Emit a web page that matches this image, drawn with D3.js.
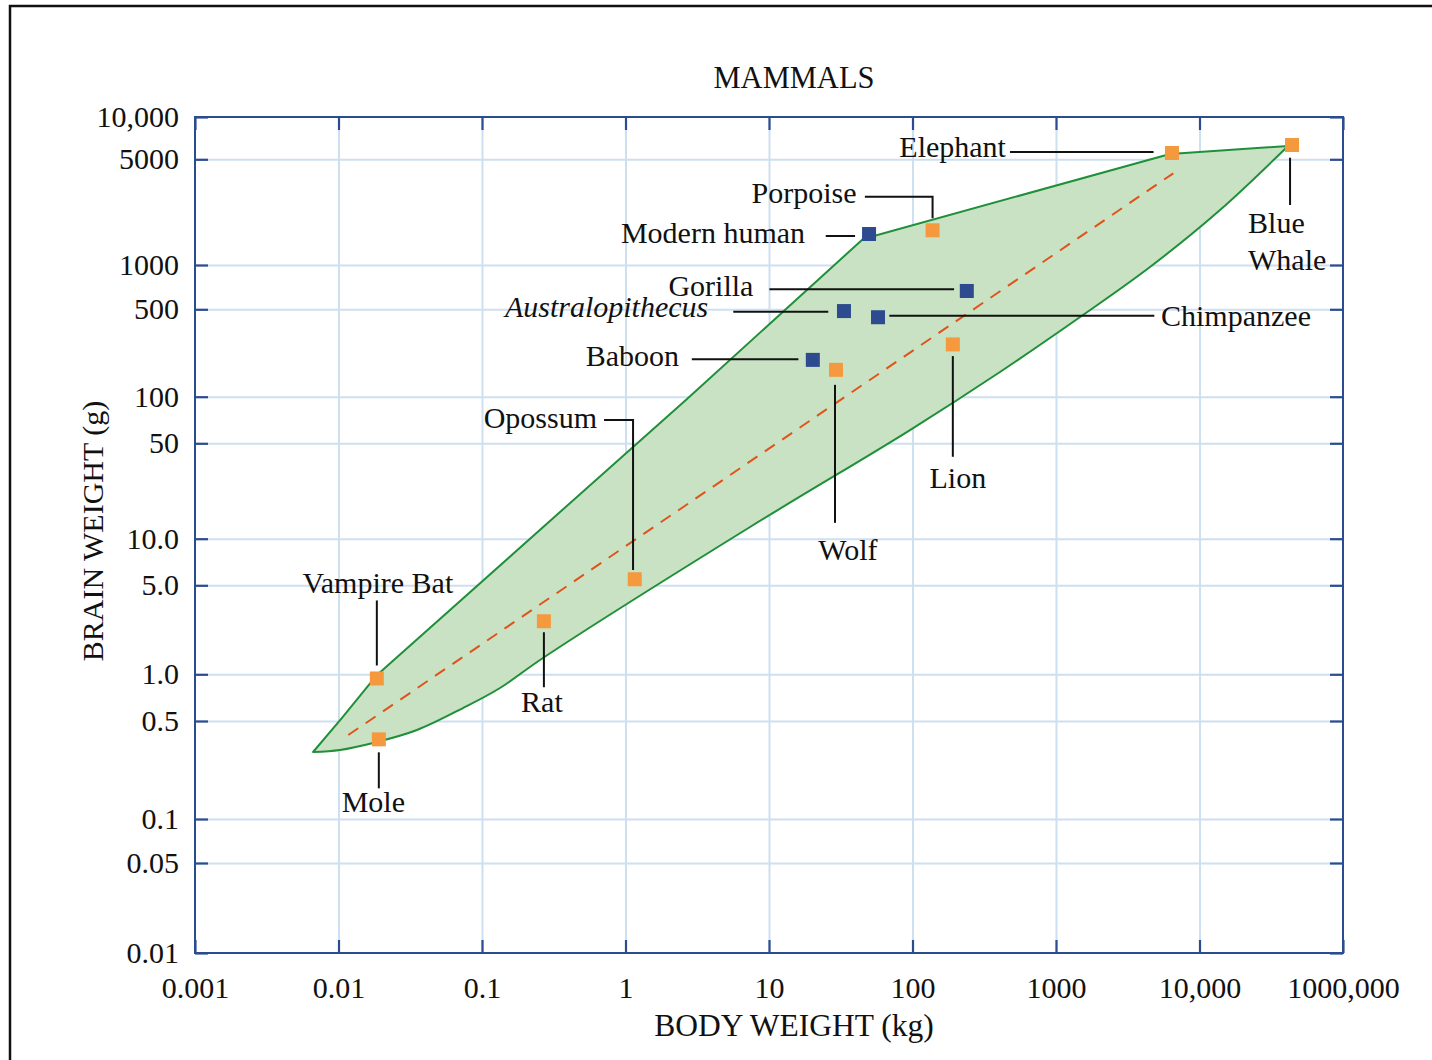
<!DOCTYPE html>
<html>
<head>
<meta charset="utf-8">
<script src="https://cdn.jsdelivr.net/npm/d3@7"></script>
<style>
  html, body { margin: 0; padding: 0; background: #fff; }
  svg { display: block; }
  text { font-family: "Liberation Serif", "Times New Roman", serif; fill: #111; }
</style>
</head>
<body>
<svg id="chart" width="1432" height="1060"></svg>
<script>
// ---- data -------------------------------------------------------------
const animals   = ["Vampire Bat", "Mole", "Rat", "Opossum", "Baboon", "Wolf",
                   "Australopithecus", "Chimpanzee", "Gorilla", "Lion",
                   "Modern human", "Porpoise", "Elephant", "Blue Whale"];
const bodyKg    = [0.0185, 0.0191, 0.27, 1.16, 20.2, 29.3, 33.3, 57.5, 239, 191, 49.8, 138, 6430, 44150];
const brainG    = [0.94, 0.37, 2.61, 5.47, 197, 164, 484, 432, 666, 262, 1603, 1696, 5543, 6322];
const isPrimate = [false, false, false, false, true, false, true, true, true, false, true, false, false, false];

// envelope enclosing the mammals: upper edge (small -> large), lower edge (large -> small)
const upperBody  = [0.00665, 0.01058, 0.01855, 0.3498, 2.683, 45.2, 6229, 41400];
const upperBrain = [0.3005, 0.523, 0.99, 15.69, 96.6, 1486, 5453, 6218];
const lowerBody  = [41400, 13900, 4519, 1542, 407, 96.1, 7.38, 0.266, 0.1335, 0.0737, 0.03524, 0.0174, 0.01024, 0.00665];
const lowerBrain = [6218, 2310, 969, 450, 157.6, 60.9, 12.18, 1.343, 0.816, 0.606, 0.4313, 0.3484, 0.3107, 0.3005];

// trend line end points
const trendBody  = [0.0117, 6565];
const trendBrain = [0.397, 4040];

// axis ticks
const xTickValues = [0.001, 0.01, 0.1, 1, 10, 100, 1000, 10000, 100000];
const xTickLabels = ["0.001", "0.01", "0.1", "1", "10", "100", "1000", "10,000", "1000,000"];
const yTickValues = [0.01, 0.05, 0.1, 0.5, 1, 5, 10, 50, 100, 500, 1000, 5000, 10000];
const yTickLabels = ["0.01", "0.05", "0.1", "0.5", "1.0", "5.0", "10.0", "50", "100", "500", "1000", "5000", "10,000"];

// ---- layout -----------------------------------------------------------
const W = 1432, H = 1060;
const plot = { left: 195, right: 1343, top: 117, bottom: 953 };
const COLORS = {
  frame: "#2c4c91", grid: "#cde0ef", fill: "#c9e2c4", edge: "#1f8f3a",
  trend: "#e0531c", other: "#f5993f", primate: "#2d4b8e", ink: "#111"
};
const FONT = 30;

const svg = d3.select("#chart");

// outer frame running off the page on the right and bottom
svg.append("rect")
  .attr("x", 10).attr("y", 6).attr("width", W + 40).attr("height", H + 40)
  .attr("fill", "none").attr("stroke", "#111").attr("stroke-width", 2.5);

const x = d3.scaleLog().domain([0.001, 100000]).range([plot.left, plot.right]);
// brain weight axis: log scale, piecewise between the printed ticks
const y = d3.scaleLog()
  .domain(yTickValues)
  .range([953, 863, 819, 721, 674.3, 585.3, 538.7, 443.3, 396.7, 309.3, 265, 159.3, 117]);

const pw = plot.right - plot.left, ph = plot.bottom - plot.top;

// gridlines
const grid = svg.append("g");
grid.append("g").attr("transform", `translate(0,${plot.bottom})`)
  .call(d3.axisBottom(x).tickValues(xTickValues.slice(1, -1)).tickSizeInner(-ph).tickSizeOuter(0).tickFormat(""));
grid.append("g").attr("transform", `translate(${plot.left},0)`)
  .call(d3.axisLeft(y).tickValues(yTickValues.slice(1, -1)).tickSizeInner(-pw).tickSizeOuter(0).tickFormat(""));
grid.selectAll(".domain").remove();
grid.selectAll("line").attr("stroke", COLORS.grid).attr("stroke-width", 2);

// envelope: straight upper edge, smooth lower edge
const upperPath = d3.line().x(d => x(d[0])).y(d => y(d[1]))
  (upperBody.map((b, i) => [b, upperBrain[i]]));
const lowerPath = d3.line().curve(d3.curveCatmullRom.alpha(0.5)).x(d => x(d[0])).y(d => y(d[1]))
  (lowerBody.map((b, i) => [b, lowerBrain[i]]));
svg.append("path")
  .attr("d", upperPath + "L" + lowerPath.slice(1) + "Z")
  .attr("fill", COLORS.fill)
  .attr("stroke", COLORS.edge).attr("stroke-width", 2).attr("stroke-linejoin", "round");

// dashed trend line
svg.append("path")
  .attr("d", d3.line().x(d => x(d[0])).y(d => y(d[1]))(trendBody.map((b, i) => [b, trendBrain[i]])))
  .attr("fill", "none").attr("stroke", COLORS.trend).attr("stroke-width", 2)
  .attr("stroke-dasharray", "12,9");

// plot frame
svg.append("rect")
  .attr("x", plot.left).attr("y", plot.top).attr("width", pw).attr("height", ph)
  .attr("fill", "none").attr("stroke", COLORS.frame).attr("stroke-width", 2);

// axes with inward ticks
const TICK = 13;
const axes = svg.append("g");
axes.append("g").attr("transform", `translate(0,${plot.bottom})`)
  .call(d3.axisBottom(x).tickValues(xTickValues).tickSizeInner(-TICK).tickSizeOuter(0)
    .tickPadding(24).tickFormat((d, i) => xTickLabels[i]));
axes.append("g").attr("transform", `translate(${plot.left},0)`)
  .call(d3.axisLeft(y).tickValues(yTickValues).tickSizeInner(-TICK).tickSizeOuter(0)
    .tickPadding(16).tickFormat((d, i) => yTickLabels[i]));
axes.append("g").attr("transform", `translate(0,${plot.top})`)
  .call(d3.axisTop(x).tickValues(xTickValues).tickSizeInner(-TICK).tickSizeOuter(0).tickFormat(""));
axes.append("g").attr("transform", `translate(${plot.right},0)`)
  .call(d3.axisRight(y).tickValues(yTickValues).tickSizeInner(-TICK).tickSizeOuter(0).tickFormat(""));
axes.selectAll(".domain").remove();
axes.selectAll("line").attr("stroke", COLORS.frame).attr("stroke-width", 2.2);
axes.selectAll("text")
  .attr("fill", COLORS.ink)
  .style("font-family", '"Liberation Serif", "Times New Roman", serif')
  .style("font-size", FONT + "px");

// titles
svg.append("text").attr("x", 794).attr("y", 88).attr("text-anchor", "middle")
  .style("font-size", "30.5px").text("MAMMALS");
svg.append("text").attr("x", 794).attr("y", 1036).attr("text-anchor", "middle")
  .style("font-size", "31.5px").text("BODY WEIGHT (kg)");
svg.append("text").attr("transform", "translate(103,531) rotate(-90)").attr("text-anchor", "middle")
  .style("font-size", FONT + "px").text("BRAIN WEIGHT (g)");

// callouts: label placement and leader path, relative to each point
const callouts = {
  "Vampire Bat":      { anchor: "middle", dx: 1,      dy: -85,   leader: [[0, -78], [0, -13]] },
  "Mole":             { anchor: "middle", dx: -5.5,   dy: 73,    leader: [[0, 13], [0, 49]] },
  "Rat":              { anchor: "middle", dx: -2,     dy: 91,    leader: [[0, 11], [0, 66]] },
  "Opossum":          { anchor: "end",    dx: -37.7,  dy: -151.3, leader: [[-30.7, -159.3], [-1.7, -159.3], [-1.7, -9.3]] },
  "Baboon":           { anchor: "end",    dx: -133.7, dy: 6.5,   leader: [[-121, -0.7], [-14.4, -0.7]] },
  "Wolf":             { anchor: "middle", dx: 12,     dy: 190,   leader: [[-1, 15], [-1, 153]] },
  "Australopithecus": { anchor: "end",    dx: -135.7, dy: 5.7,   leader: [[-110.7, 0.7], [-15.7, 0.7]], italic: true },
  "Chimpanzee":       { anchor: "start",  dx: 283,    dy: 8.4,   leader: [[11.3, -1.6], [276.3, -1.6]] },
  "Gorilla":          { anchor: "end",    dx: -213.4, dy: 4.7,   leader: [[-197.4, -1.7], [-12.7, -1.7]] },
  "Lion":             { anchor: "middle", dx: 5,      dy: 144,   leader: [[0, 11.7], [0, 112.4]] },
  "Modern human":     { anchor: "end",    dx: -64,    dy: 9.3,   leader: [[-43.3, 2], [-14, 2]] },
  "Porpoise":         { anchor: "end",    dx: -76,    dy: -27,   leader: [[-67.7, -33.6], [0, -33.6], [0, -12]] },
  "Elephant":         { anchor: "end",    dx: -166,   dy: 4,     leader: [[-162, -1], [-18.4, -1]] },
  "Blue Whale":       { anchor: "start",  dx: -44,    dy: 88,    leader: [[-2, 12.7], [-2, 60]], lines: ["Blue", "Whale"] }
};

const points = animals.map((name, i) => ({
  name, body: bodyKg[i], brain: brainG[i], primate: isPrimate[i],
  px: x(bodyKg[i]), py: y(brainG[i])
}));

// leader lines
svg.append("g").selectAll("path").data(points).join("path")
  .attr("d", p => d3.line()(callouts[p.name].leader.map(o => [p.px + o[0], p.py + o[1]])))
  .attr("fill", "none").attr("stroke", COLORS.ink).attr("stroke-width", 2);

// markers
const SQ = 14;
svg.append("g").selectAll("rect").data(points).join("rect")
  .attr("x", p => p.px - SQ / 2).attr("y", p => p.py - SQ / 2)
  .attr("width", SQ).attr("height", SQ)
  .attr("fill", p => p.primate ? COLORS.primate : COLORS.other);

// labels
const labels = svg.append("g").selectAll("text").data(points).join("text")
  .attr("x", p => p.px + callouts[p.name].dx)
  .attr("y", p => p.py + callouts[p.name].dy)
  .attr("text-anchor", p => callouts[p.name].anchor)
  .style("font-size", FONT + "px")
  .style("font-style", p => callouts[p.name].italic ? "italic" : "normal");
labels.each(function (p) {
  const c = callouts[p.name];
  const t = d3.select(this);
  if (c.lines) {
    c.lines.forEach((line, k) => {
      t.append("tspan").attr("x", p.px + c.dx).attr("dy", k === 0 ? 0 : 37).text(line);
    });
  } else {
    t.text(p.name);
  }
});
</script>
</body>
</html>
